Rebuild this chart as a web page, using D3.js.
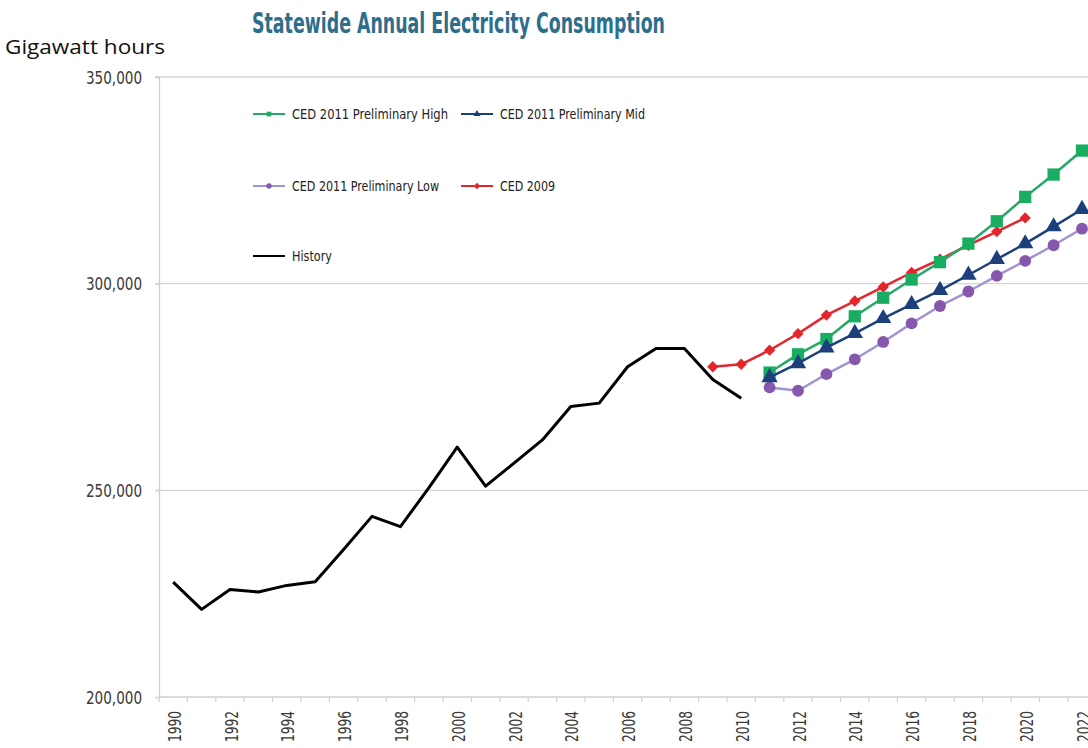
<!DOCTYPE html>
<html>
<head>
<meta charset="utf-8">
<script src="https://cdn.jsdelivr.net/npm/d3@7"></script>
<style>
  html, body { margin: 0; padding: 0; background: #fff; }
  svg { display: block; }
</style>
</head>
<body>
<svg id="chart" width="1088" height="748"></svg>
<script>
// Annual consumption, gigawatt hours
const years = d3.range(1990, 2023);
const yTicks = [200000, 250000, 300000, 350000];

const historyYears = d3.range(1990, 2011);
const historyValues = [227800, 221200, 226000, 225400, 227000, 227900, 235700, 243700, 241200, 250600,
  260450, 251000, 256600, 262200, 270300, 271100, 279900, 284300, 284300, 276800, 272300];

const ced2009Years = d3.range(2009, 2021);
const ced2009Values = [279900, 280500, 283900, 287900, 292400, 295800, 299200, 302700, 305900, 309300, 312600, 315900];

const ced2011Years = d3.range(2011, 2023);
const highValues = [278500, 282900, 286600, 292100, 296600, 301000, 305200, 309700, 315100, 321000, 326400, 332200];
const midValues  = [277300, 280700, 284500, 288000, 291600, 295000, 298400, 302100, 305900, 309700, 313800, 318000];
const lowValues  = [274900, 274100, 278100, 281700, 285900, 290400, 294600, 298100, 301900, 305500, 309300, 313300];

const svg = d3.select("#chart");
const narrow = "'DejaVu Sans Condensed', 'Liberation Sans', sans-serif";

const plotLeft = 159, plotTop = 77, plotBottom = 697;
const step = 28.4;
const x = d3.scaleBand().domain(years).range([plotLeft, plotLeft + years.length * step]).padding(0);
const y = d3.scaleLinear().domain([200000, 350000]).range([plotBottom, plotTop]);
const cx = d => x(d) + x.bandwidth() / 2;

// Title and unit label
svg.append("text")
  .attr("x", 252).attr("y", 33)
  .attr("textLength", 413).attr("lengthAdjust", "spacingAndGlyphs")
  .style("font-family", narrow).style("font-weight", "bold")
  .style("font-size", "29px").style("fill", "#2d6e8c")
  .text("Statewide Annual Electricity Consumption");

svg.append("text")
  .attr("x", 5).attr("y", 54)
  .attr("textLength", 160).attr("lengthAdjust", "spacingAndGlyphs")
  .style("font-family", "'Open Sans', 'Noto Sans', sans-serif")
  .style("font-size", "20px").style("fill", "#111")
  .text("Gigawatt hours");

// Gridlines
svg.append("g").selectAll("line")
  .data(yTicks.slice(1))
  .join("line")
  .attr("x1", plotLeft - 4).attr("x2", 1088)
  .attr("y1", d => y(d)).attr("y2", d => y(d))
  .attr("stroke", "#d6d6d6").attr("stroke-width", 1.3);

// Y axis
const yAxis = svg.append("g")
  .attr("transform", `translate(${plotLeft},0)`)
  .call(d3.axisLeft(y).tickValues(yTicks).tickFormat(d3.format(",")).tickSize(4).tickPadding(13));
yAxis.select(".domain").attr("stroke", "#cfcfcf").attr("stroke-width", 1.3);
yAxis.selectAll(".tick line").attr("stroke", "#cfcfcf");
yAxis.selectAll("text")
  .attr("textLength", 56).attr("lengthAdjust", "spacingAndGlyphs")
  .attr("dy", "0.36em")
  .style("font-family", narrow).style("font-size", "17px").style("fill", "#3a3a3a");

// X axis: ticks between categories, labels every other year
const xAxisG = svg.append("g").attr("transform", `translate(0,${plotBottom})`);
xAxisG.append("line")
  .attr("x1", plotLeft).attr("x2", 1088).attr("y1", 0).attr("y2", 0)
  .attr("stroke", "#cfcfcf").attr("stroke-width", 1.3);
xAxisG.selectAll("line.tk")
  .data(years)
  .join("line").attr("class", "tk")
  .attr("x1", d => x(d)).attr("x2", d => x(d))
  .attr("y1", 0).attr("y2", 5)
  .attr("stroke", "#cfcfcf").attr("stroke-width", 1.2);
xAxisG.selectAll("text")
  .data(years.filter(d => d % 2 === 0))
  .join("text")
  .attr("transform", d => `translate(${cx(d) + 7.5},14) rotate(-90)`)
  .attr("text-anchor", "end")
  .attr("textLength", 31).attr("lengthAdjust", "spacingAndGlyphs")
  .style("font-family", narrow).style("font-size", "17px").style("fill", "#3a3a3a")
  .text(d => d);

// Series definitions
const line = d3.line().x(d => cx(d[0])).y(d => y(d[1]));
const zip = (ys, vs) => ys.map((yr, i) => [yr, vs[i]]);

const series = [
  { name: "History", years: historyYears, values: historyValues, stroke: "#000", fill: "#000", width: 3, symbol: null },
  { name: "CED 2009", years: ced2009Years, values: ced2009Values, stroke: "#e3262b", fill: "#e3262b", width: 2.5, symbol: d3.symbolSquare, size: 64, rotate: 45 },
  { name: "CED 2011 Preliminary High", years: ced2011Years, values: highValues, stroke: "#27a865", fill: "#19ad62", width: 2.5, symbol: d3.symbolSquare, size: 150, rotate: 0 },
  { name: "CED 2011 Preliminary Low", years: ced2011Years, values: lowValues, stroke: "#a294d0", fill: "#8558ad", width: 2.5, symbol: d3.symbolCircle, size: 110, rotate: 0 },
  { name: "CED 2011 Preliminary Mid", years: ced2011Years, values: midValues, stroke: "#1d3f7c", fill: "#1d3f7c", width: 2.5, symbol: d3.symbolTriangle, size: 115, rotate: 0 }
];

const plot = svg.append("g");
series.forEach(s => {
  const pts = zip(s.years, s.values);
  plot.append("path")
    .datum(pts)
    .attr("d", line)
    .attr("fill", "none")
    .attr("stroke", s.stroke)
    .attr("stroke-width", s.width)
    .attr("stroke-linejoin", "round");
  if (s.symbol) {
    plot.append("g").selectAll("path")
      .data(pts)
      .join("path")
      .attr("transform", d => `translate(${cx(d[0])},${y(d[1])}) rotate(${s.rotate})`)
      .attr("d", d3.symbol().type(s.symbol).size(s.size))
      .attr("fill", s.fill);
  }
});

// Legend
const legendItems = [
  { key: "CED 2011 Preliminary High", lx: 253, ly: 114, len: 156 },
  { key: "CED 2011 Preliminary Mid", lx: 461, ly: 114, len: 145 },
  { key: "CED 2011 Preliminary Low", lx: 253, ly: 186, len: 147 },
  { key: "CED 2009", lx: 461, ly: 186, len: 55 },
  { key: "History", lx: 253, ly: 256, len: 40 }
];
const legend = svg.append("g");
legendItems.forEach(item => {
  const s = series.find(d => d.name === item.key);
  const g = legend.append("g").attr("transform", `translate(${item.lx},${item.ly})`);
  g.append("line").attr("x1", 0).attr("x2", 32).attr("y1", 0).attr("y2", 0)
    .attr("stroke", s.stroke).attr("stroke-width", 2);
  if (s.symbol) {
    g.append("path")
      .attr("transform", `translate(16,0) rotate(${s.rotate})`)
      .attr("d", d3.symbol().type(s.symbol).size(22))
      .attr("fill", s.fill);
  }
  g.append("text").attr("x", 39).attr("y", 5)
    .attr("textLength", item.len).attr("lengthAdjust", "spacingAndGlyphs")
    .style("font-family", narrow).style("font-size", "14px").style("fill", "#222")
    .text(s.name);
});
</script>
</body>
</html>
